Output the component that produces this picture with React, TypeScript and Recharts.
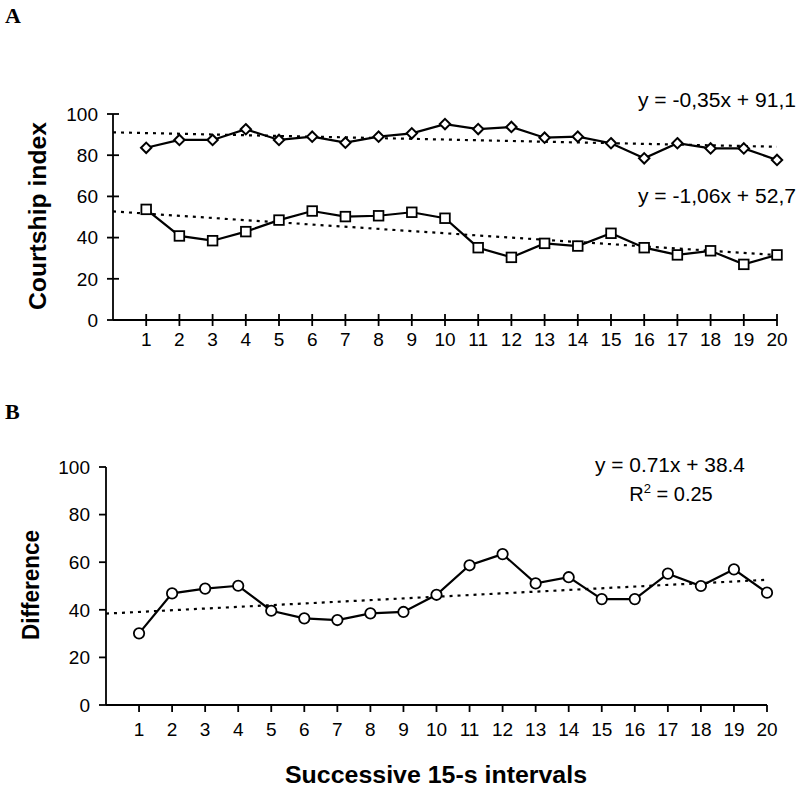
import { LineChart, Line, XAxis, YAxis } from "recharts";

// successive 15-s intervals
const intervals = [1, 2, 3, 4, 5, 6, 7, 8, 9, 10, 11, 12, 13, 14, 15, 16, 17, 18, 19, 20];
const xTicks = intervals;
const yTicks = [0, 20, 40, 60, 80, 100];

// panel A (diamonds upper, squares lower)
const courtshipHigh = [83.6, 87.4, 87.4, 92.6, 87.4, 89, 86.1, 89, 90.6, 95.1, 92.7, 93.7, 88.5, 89, 85.8, 78.5, 85.8, 83.3, 83.3, 77.7];
const courtshipLow = [53.7, 40.8, 38.5, 42.9, 48.5, 52.9, 50.2, 50.6, 52.3, 49.4, 35.1, 30.4, 37.2, 35.9, 42.1, 35.1, 31.6, 33.6, 27, 31.6];
const trendHigh = [{ x: 0, y: 91.1 }, { x: 20, y: 84.1 }];
const trendLow = [{ x: 0, y: 52.7 }, { x: 20, y: 31.5 }];

// panel B
const difference = [30.1, 46.9, 48.9, 50.1, 39.6, 36.4, 35.7, 38.5, 39.1, 46.3, 58.7, 63.4, 51.1, 53.7, 44.5, 44.5, 55.2, 50, 57, 47.2];
const trendDiff = [{ x: 0, y: 38.4 }, { x: 20, y: 52.6 }];

const rowsA = intervals.map((x, i) => ({ x, high: courtshipHigh[i], low: courtshipLow[i] }));
const rowsB = intervals.map((x, i) => ({ x, diff: difference[i] }));

const SANS = "'Liberation Sans', Arial, sans-serif";
const SERIF = "'Liberation Serif', 'Times New Roman', serif";
const TICK_FONT = 19;

function CrossTickX(props: any) {
  const { x, y, payload } = props;
  return (
    <g>
      <line x1={x} x2={x} y1={y - 6} y2={y + 6} stroke="#000" strokeWidth={1.8} />
      <text x={x} y={y + 13} dy="0.71em" textAnchor="middle" fontFamily={SANS} fontSize={TICK_FONT} fill="#000">
        {payload.value}
      </text>
    </g>
  );
}

function CrossTickY(props: any) {
  const { x, y, payload } = props;
  return (
    <g>
      <line x1={x - 6} x2={x + 6} y1={y} y2={y} stroke="#000" strokeWidth={1.8} />
      <text x={x - 15} y={y} dy="0.355em" textAnchor="end" fontFamily={SANS} fontSize={TICK_FONT} fill="#000">
        {payload.value}
      </text>
    </g>
  );
}

function OutTickX(props: any) {
  const { x, y, payload } = props;
  return (
    <g>
      <line x1={x} x2={x} y1={y} y2={y + 7} stroke="#000" strokeWidth={1.8} />
      <text x={x} y={y + 18} dy="0.71em" textAnchor="middle" fontFamily={SANS} fontSize={TICK_FONT} fill="#000">
        {payload.value}
      </text>
    </g>
  );
}

function OutTickY(props: any) {
  const { x, y, payload } = props;
  return (
    <g>
      <line x1={x - 7} x2={x} y1={y} y2={y} stroke="#000" strokeWidth={1.8} />
      <text x={x - 16} y={y} dy="0.355em" textAnchor="end" fontFamily={SANS} fontSize={TICK_FONT} fill="#000">
        {payload.value}
      </text>
    </g>
  );
}

const diamondDot = (p: any) => {
  const { cx, cy, index } = p;
  if (cx == null || cy == null) return <g key={`d-${index}`} />;
  const r = 5.2;
  return (
    <path
      key={`d-${index}`}
      d={`M${cx},${cy - r} L${cx + r},${cy} L${cx},${cy + r} L${cx - r},${cy} Z`}
      fill="#fff"
      stroke="#000"
      strokeWidth={2}
    />
  );
};

const squareDot = (p: any) => {
  const { cx, cy, index } = p;
  if (cx == null || cy == null) return <g key={`s-${index}`} />;
  const h = 4.8;
  return (
    <rect key={`s-${index}`} x={cx - h} y={cy - h} width={h * 2} height={h * 2} fill="#fff" stroke="#000" strokeWidth={1.8} />
  );
};

const circleDot = (p: any) => {
  const { cx, cy, index } = p;
  if (cx == null || cy == null) return <g key={`c-${index}`} />;
  return <circle key={`c-${index}`} cx={cx} cy={cy} r={5.2} fill="#fff" stroke="#000" strokeWidth={1.8} />;
};

export default function App() {
  return (
    <div style={{ position: "absolute", left: 0, top: 0, width: 800, height: 788, background: "#fff" }}>
      <div style={{ position: "absolute", left: 0, top: 0 }}>
        <LineChart width={800} height={360} data={rowsA} margin={{ top: 114, right: 23, bottom: 10, left: 0 }}>
          <XAxis
            dataKey="x"
            type="number"
            domain={[0, 20]}
            ticks={xTicks}
            interval={0}
            height={30}
            tickSize={0}
            tickMargin={0}
            tickLine={false}
            tick={<CrossTickX />}
            stroke="#000"
            strokeWidth={1.8}
          />
          <YAxis
            domain={[0, 100]}
            ticks={yTicks}
            width={113}
            tickSize={0}
            tickMargin={0}
            tickLine={false}
            tick={<CrossTickY />}
            stroke="#000"
            strokeWidth={1.8}
          />
          <Line data={trendHigh} dataKey="y" stroke="#000" strokeWidth={2.2} strokeDasharray="3 5" dot={false} isAnimationActive={false} />
          <Line data={trendLow} dataKey="y" stroke="#000" strokeWidth={2.2} strokeDasharray="3 5" dot={false} isAnimationActive={false} />
          <Line dataKey="high" stroke="#000" strokeWidth={2.2} dot={diamondDot} isAnimationActive={false} />
          <Line dataKey="low" stroke="#000" strokeWidth={2.2} dot={squareDot} isAnimationActive={false} />
          <text x={5} y={23} fontFamily={SERIF} fontWeight="bold" fontSize={22} fill="#000">A</text>
          <text
            x={38}
            y={216}
            transform="rotate(-90, 38, 216)"
            textAnchor="middle"
            dominantBaseline="central"
            fontFamily={SANS}
            fontWeight="bold"
            fontSize={23}
            textLength={188}
            lengthAdjust="spacingAndGlyphs"
            fill="#000"
          >
            Courtship index
          </text>
          <text x={796} y={107} textAnchor="end" fontFamily={SANS} fontSize={20} textLength={158} lengthAdjust="spacingAndGlyphs" fill="#000">
            y = -0,35x + 91,1
          </text>
          <text x={796} y={203} textAnchor="end" fontFamily={SANS} fontSize={20} textLength={158} lengthAdjust="spacingAndGlyphs" fill="#000">
            y = -1,06x + 52,7
          </text>
        </LineChart>
      </div>
      <div style={{ position: "absolute", left: 0, top: 360 }}>
        <LineChart width={800} height={428} data={rowsB} margin={{ top: 107, right: 33, bottom: 43, left: 0 }}>
          <XAxis
            dataKey="x"
            type="number"
            domain={[0, 20]}
            ticks={xTicks}
            interval={0}
            height={40}
            tickSize={0}
            tickMargin={0}
            tickLine={false}
            tick={<OutTickX />}
            stroke="#000"
            strokeWidth={1.8}
          />
          <YAxis
            domain={[0, 100]}
            ticks={yTicks}
            width={106}
            tickSize={0}
            tickMargin={0}
            tickLine={false}
            tick={<OutTickY />}
            stroke="#000"
            strokeWidth={1.8}
          />
          <Line data={trendDiff} dataKey="y" stroke="#000" strokeWidth={2.2} strokeDasharray="3 5" dot={false} isAnimationActive={false} />
          <Line dataKey="diff" stroke="#000" strokeWidth={2.2} dot={circleDot} isAnimationActive={false} />
          <text x={5} y={59} fontFamily={SERIF} fontWeight="bold" fontSize={22} fill="#000">B</text>
          <text
            x={31}
            y={225}
            transform="rotate(-90, 31, 225)"
            textAnchor="middle"
            dominantBaseline="central"
            fontFamily={SANS}
            fontWeight="bold"
            fontSize={23}
            textLength={110}
            lengthAdjust="spacingAndGlyphs"
            fill="#000"
          >
            Difference
          </text>
          <text x={670} y={112} textAnchor="middle" fontFamily={SANS} fontSize={20} textLength={150} lengthAdjust="spacingAndGlyphs" fill="#000">
            y = 0.71x + 38.4
          </text>
          <text x={671} y={141} textAnchor="middle" fontFamily={SANS} fontSize={20} fill="#000">
            R<tspan dy={-8} fontSize={13}>2</tspan><tspan dy={8}> = 0.25</tspan>
          </text>
          <text x={436} y={423} textAnchor="middle" fontFamily={SANS} fontWeight="bold" fontSize={23} textLength={302} lengthAdjust="spacingAndGlyphs" fill="#000">
            Successive 15-s intervals
          </text>
        </LineChart>
      </div>
    </div>
  );
}
